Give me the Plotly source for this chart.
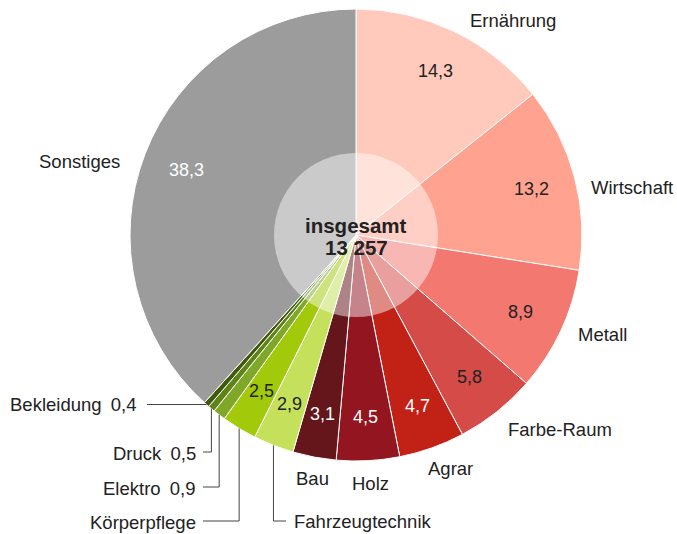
import math
import plotly.graph_objects as go

# ---- data ----
categories = ["Ernährung", "Wirtschaft", "Metall", "Farbe-Raum", "Agrar", "Holz", "Bau",
              "Fahrzeugtechnik", "Körperpflege", "Elektro", "Druck", "Bekleidung", "Sonstiges"]
shares = [14.3, 13.2, 8.9, 5.8, 4.7, 4.5, 3.1, 2.9, 2.5, 0.9, 0.5, 0.4, 38.3]
total_label = "insgesamt"
total_value = "13 257"

# ---- style ----
colors = ["#FFCABB", "#FFA390", "#F37870", "#D44B48", "#C22216", "#931520", "#65161A",
          "#C5E05A", "#A2C90A", "#80A828", "#5E8418", "#3F5A0C", "#9C9C9C"]
value_colors = ["#222222", "#222222", "#222222", "#222222", "#FFFFFF", "#FFFFFF", "#FFFFFF",
                "#222222", "#222222", None, None, None, "#FFFFFF"]
# small nudges (px) of outer labels relative to their radial anchor
label_nudge = {"Ernährung": (6, 6), "Wirtschaft": (-4, 15), "Metall": (-2, -4),
               "Farbe-Raum": (-3, 3), "Agrar": (-12, 3), "Holz": (1, 4), "Bau": (2, 3),
               "Sonstiges": (-5, 15)}
# leader-line labels: category -> (elbow y in px, label side, show value in label)
leaders = {
    "Bekleidung": (None, "left", True),
    "Druck": (452, "left", True),
    "Elektro": (487, "left", True),
    "Körperpflege": (521, "left", False),
    "Fahrzeugtechnik": (521, "right", False),
}

W, H = 677, 534
CX, CY, R = 356, 235, 226
FONT = "Liberation Sans, Arial, Helvetica, sans-serif"
TXT = "#222222"


def px(x):
    return x / W


def py(y):
    return 1 - y / H


def fmt(v):
    return f"{v:.1f}".replace(".", ",")


fig = go.Figure()
fig.add_trace(go.Pie(
    labels=categories, values=shares, sort=False, direction="clockwise", rotation=0,
    marker=dict(colors=colors, line=dict(color="white", width=1)),
    textinfo="none", hoverinfo="label+value", showlegend=False,
    domain=dict(x=[px(CX - R), px(CX + R)], y=[py(CY + R), py(CY - R)]),
))

annotations = []
shapes = []

# centre disc
shapes.append(dict(type="circle", xref="paper", yref="paper",
                   x0=px(CX - 82), x1=px(CX + 82), y0=py(CY + 82), y1=py(CY - 82),
                   fillcolor="rgba(255,255,255,0.47)", line=dict(width=0), layer="above"))
annotations.append(dict(x=px(CX), y=py(225), xref="paper", yref="paper", text=f"<b>{total_label}</b>",
                        showarrow=False, font=dict(family=FONT, size=20.5, color=TXT)))
annotations.append(dict(x=px(CX), y=py(247), xref="paper", yref="paper", text=f"<b>{total_value}</b>",
                        showarrow=False, font=dict(family=FONT, size=20.5, color=TXT)))

tot = sum(shares)
cum = 0.0
for cat, v, vc in zip(categories, shares, value_colors):
    mid = (cum + v / 2) / tot * 2 * math.pi
    cum += v
    s, c = math.sin(mid), math.cos(mid)
    if cat in leaders:
        ey, side, showv = leaders[cat]
        x0, y0 = CX + R * s, CY - R * c
        text = f"{cat}\u2002{fmt(v)}" if showv else cat
        if ey is None:
            xe = 147
            shapes.append(dict(type="line", xref="paper", yref="paper", x0=px(x0), y0=py(y0),
                               x1=px(xe), y1=py(y0), line=dict(color="#444444", width=1)))
            annotations.append(dict(x=px(xe - 8), y=py(y0), xref="paper", yref="paper", text=text,
                                    showarrow=False, xanchor="right", yanchor="middle",
                                    font=dict(family=FONT, size=18.5, color=TXT)))
        else:
            xe = 203 if side == "left" else 286
            shapes.append(dict(type="path", xref="paper", yref="paper",
                               path=f"M {px(x0)} {py(y0)} L {px(x0)} {py(ey)} L {px(xe)} {py(ey)}",
                               line=dict(color="#444444", width=1)))
            if side == "left":
                annotations.append(dict(x=px(xe - 5), y=py(ey + 1), xref="paper", yref="paper", text=text,
                                        showarrow=False, xanchor="right", yanchor="middle",
                                        font=dict(family=FONT, size=18.5, color=TXT)))
            else:
                annotations.append(dict(x=px(xe + 6), y=py(ey), xref="paper", yref="paper", text=text,
                                        showarrow=False, xanchor="left", yanchor="middle",
                                        font=dict(family=FONT, size=18.5, color=TXT)))
    else:
        rl = R + 19
        ndx, ndy = label_nudge.get(cat, (0, 0))
        lx, ly = CX + rl * s + ndx, CY - rl * c + ndy
        xa = "left" if s > 0.25 else ("right" if s < -0.25 else "center")
        annotations.append(dict(x=px(lx), y=py(ly), xref="paper", yref="paper", text=cat,
                                showarrow=False, xanchor=xa, yanchor="middle",
                                font=dict(family=FONT, size=18.5, color=TXT)))
    if vc is not None:
        rv = 0.805 * R
        annotations.append(dict(x=px(CX + rv * s), y=py(CY - rv * c), xref="paper", yref="paper",
                                text=fmt(v), showarrow=False, xanchor="center", yanchor="middle",
                                font=dict(family=FONT, size=18, color=vc)))

fig.update_layout(width=W, height=H, margin=dict(l=0, r=0, t=0, b=0),
                  paper_bgcolor="white", plot_bgcolor="white",
                  annotations=annotations, shapes=shapes)
fig.write_html("out.html", config={"displayModeBar": False},
               post_script="document.body.style.margin='0';document.body.style.overflow='hidden';")
